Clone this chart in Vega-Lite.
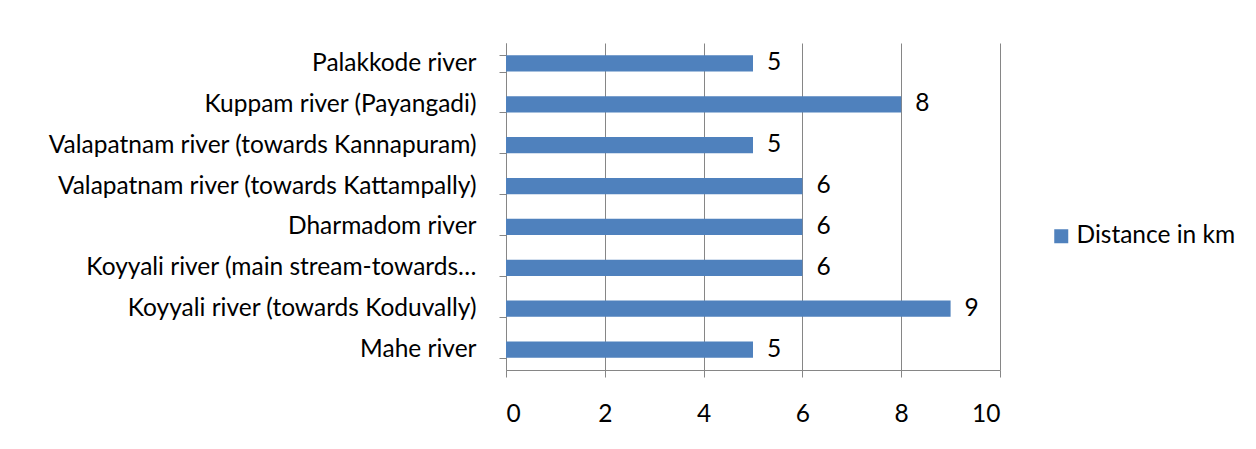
{
  "$schema": "https://vega.github.io/schema/vega-lite/v6.json",
  "width": 494,
  "height": 327,
  "padding": {"left": 6, "top": 30, "right": 10, "bottom": 5},
  "background": "white",
  "config": {
    "font": "Lato",
    "view": {"stroke": null},
    "axis": {"labelFont": "Lato", "labelFontSize": 24.5, "labelColor": "#000000", "titleFont": "Lato"},
    "legend": {"labelFont": "Lato"}
  },
  "data": {
    "values": [
      {"river": "Palakkode river ", "km": 5},
      {"river": "Kuppam river (Payangadi)", "km": 8},
      {"river": "Valapatnam river (towards Kannapuram)", "km": 5},
      {"river": "Valapatnam river (towards Kattampally)", "km": 6},
      {"river": "Dharmadom river ", "km": 6},
      {"river": "Koyyali river (main stream-towards…", "km": 6},
      {"river": "Koyyali river (towards Koduvally)", "km": 9},
      {"river": "Mahe river", "km": 5}
    ]
  },
  "encoding": {
    "y": {
      "field": "river",
      "type": "nominal",
      "sort": null,
      "title": null,
      "scale": {"paddingInner": 0.6, "paddingOuter": 0.3},
      "axis": {
        "tickBand": "extent",
        "ticks": true,
        "tickSize": 7,
        "tickColor": "#868686",
        "domainColor": "#868686",
        "labelPadding": 23,
        "labelLimit": 600,
        "minExtent": 500,
        "maxExtent": 500,
        "grid": false
      }
    },
    "x": {
      "field": "km",
      "type": "quantitative",
      "title": null,
      "scale": {"domain": [0, 10], "nice": false},
      "axis": {
        "values": [0, 2, 4, 6, 8, 10],
        "grid": true,
        "gridColor": "#868686",
        "gridWidth": 1,
        "tickColor": "#868686",
        "domainColor": "#868686",
        "tickSize": 7,
        "labelPadding": 25
      }
    }
  },
  "layer": [
    {
      "mark": {"type": "bar", "color": "#4f81bd"},
      "encoding": {
        "color": {
          "datum": "Distance in km",
          "scale": {"range": ["#4f81bd"]},
          "legend": {
            "title": null,
            "orient": "none",
            "legendX": 543,
            "legendY": 181,
            "symbolType": "square",
            "symbolSize": 196,
            "symbolStrokeWidth": 0,
            "labelFontSize": 24.5,
            "labelColor": "#000000",
            "labelOffset": 3
          }
        }
      }
    },
    {
      "mark": {"type": "text", "align": "left", "baseline": "middle", "dx": 14, "fontSize": 24.5, "color": "#000000", "font": "Lato"},
      "encoding": {"text": {"field": "km", "type": "quantitative"}}
    }
  ]
}
